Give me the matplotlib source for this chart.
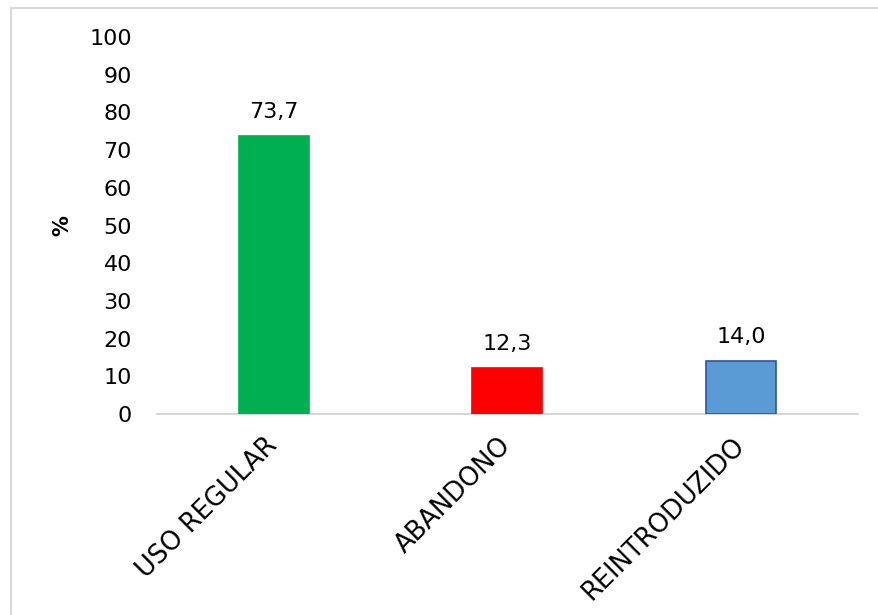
import matplotlib.pyplot as plt
from matplotlib.patches import Rectangle

plt.rcParams['font.family'] = ['DejaVu Sans']

categories = ["USO REGULAR", "ABANDONO", "REINTRODUZIDO"]
values = [73.7, 12.3, 14.0]
colors = ["#00B050", "#FF0000", "#5B9BD5"]
edges = ["#00B050", "#FF0000", "#2F5597"]

fig = plt.figure(figsize=(8.79, 6.15), dpi=100)
ax = fig.add_axes([0.1786, 0.3268, 0.7974, 0.613])

x = list(range(len(categories)))
bars = ax.bar(x, values, width=0.3, color=colors, edgecolor=edges, linewidth=1.2, zorder=3)

# value labels with comma decimal separator
for xi, v in zip(x, values):
    ax.annotate(f"{v:.1f}".replace(".", ","), (xi, v), xytext=(0, 10),
                textcoords="offset points", ha="center", va="bottom", fontsize=16)

ax.set_xlim(-0.5, 2.5)
ax.set_ylim(0, 100)
ax.set_yticks(range(0, 101, 10))
ax.set_xticks(x)
ax.set_xticklabels(categories, rotation=45, ha="right", va="center",
                   rotation_mode="anchor", fontsize=18.5)
ax.tick_params(axis="x", length=0, pad=20)
ax.tick_params(axis="y", length=0, labelsize=16, pad=18)

for side in ["top", "right", "left"]:
    ax.spines[side].set_visible(False)
ax.spines["bottom"].set_color("#D0D0D0")
ax.spines["bottom"].set_linewidth(1.2)

ax.set_ylabel("%", fontsize=15, fontweight="bold", labelpad=12)

# light frame around the chart area (open on the right and bottom)
fig.patches.append(Rectangle((11 / 879, -0.05), 1.2, 1 - 8 / 615 + 0.05,
                             transform=fig.transFigure, fill=False,
                             edgecolor="#D9D9D9", linewidth=1.5))

fig.savefig("out.png", dpi=100)
